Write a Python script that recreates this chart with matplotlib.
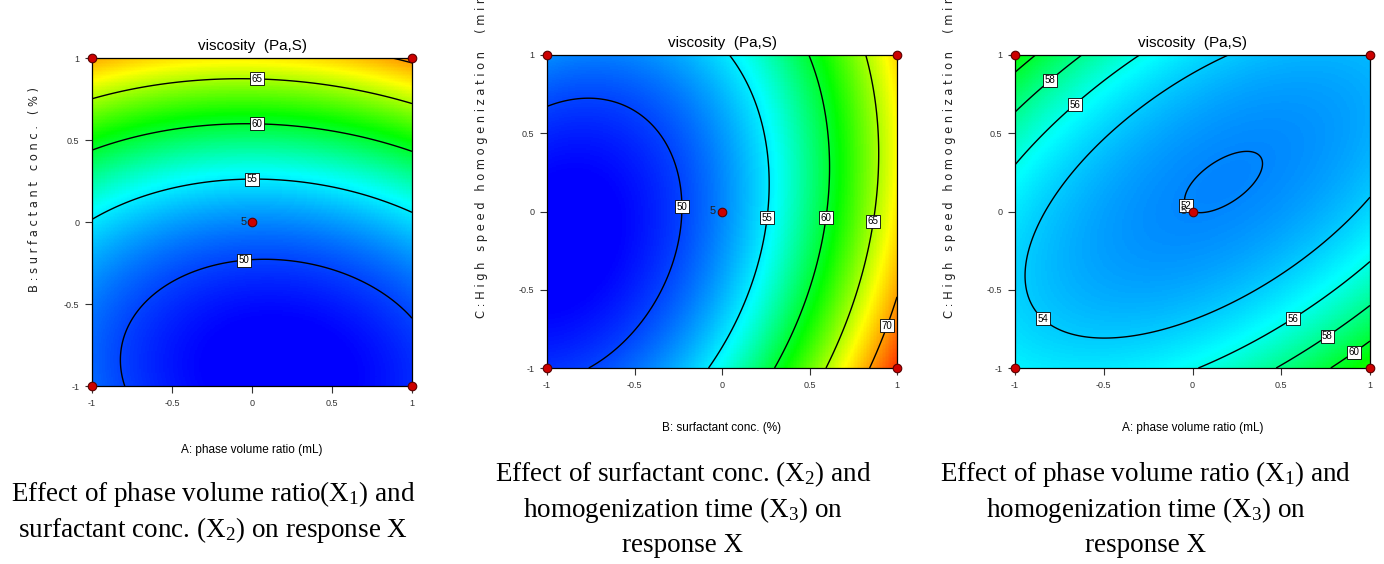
import numpy as np
import matplotlib
matplotlib.use("Agg")
import matplotlib.pyplot as plt
from matplotlib.colors import LinearSegmentedColormap

# quadratic response-surface model for viscosity (coded factors A, B, C)
terms = ["1", "A", "B", "C", "A2", "B2", "C2", "AB", "AC", "BC"]
coef = [52.0, -0.25, 10.0, -0.62, 2.6, 5.6, 3.27, 0.7, -3.5, -2.0]

# design points shown on every panel (coded)
design_x = [-1, 1, -1, 1, 0]
design_y = [-1, -1, 1, 1, 0]
center_runs = "5"

ticks = [-1, -0.5, 0, 0.5, 1]
tick_labels = ["-1", "-0.5", "0", "0.5", "1"]

# colour scale of the surface (value -> colour)
cmap_values = [48.0, 55.5, 61.0, 67.0, 74.0]
cmap_colors = ["#0000ff", "#00ffff", "#00ff00", "#ffff00", "#ff2000"]

panel_axes = [("A", "B"), ("B", "C"), ("A", "C")]
panel_levels = [[50, 55, 60, 65, 70], [50, 55, 60, 65, 70], [52, 54, 56, 58, 60]]
panel_label_pos = [
    [(-0.05, -0.23), (0.0, 0.26), (0.03, 0.6), (0.03, 0.87)],
    [(-0.23, 0.03), (0.25, -0.04), (0.59, -0.04), (0.85, -0.06), (0.92, -0.72)],
    [(-0.05, 0.03), (-0.75, -0.57), (-0.7, 0.73), (0.55, -0.66),
     (-0.84, 0.89), (0.75, -0.78), (0.9, -0.88)],
]
xlabels = ["A: phase volume ratio (mL)", "B: surfactant conc. (%)",
           "A: phase volume ratio (mL)"]
ylabels = ["B : s u r f a c t a n t   c o n c .   ( % )",
           "C : H i g h   s p e e d   h o m o g e n i z a t i o n     ( m i n )",
           "C : H i g h   s p e e d   h o m o g e n i z a t i o n     ( m i n )"]
title = "viscosity  (Pa,S)"
captions = [
    ["Effect of phase volume ratio(X$_1$) and",
     "surfactant conc. (X$_2$) on response X"],
    ["Effect of surfactant conc. (X$_2$) and",
     "homogenization time (X$_3$) on", "response X"],
    ["Effect of phase volume ratio (X$_1$) and",
     "homogenization time (X$_3$) on", "response X"],
]


def viscosity(A, B, C):
    k = dict(zip(terms, coef))
    return (k["1"] + k["A"] * A + k["B"] * B + k["C"] * C
            + k["A2"] * A ** 2 + k["B2"] * B ** 2 + k["C2"] * C ** 2
            + k["AB"] * A * B + k["AC"] * A * C + k["BC"] * B * C)


W, H = 1384, 564
narrow = ["Liberation Sans", "DejaVu Sans"]
plt.rcParams["mathtext.fontset"] = "custom"
plt.rcParams["mathtext.rm"] = "Liberation Serif"
plt.rcParams["mathtext.it"] = "Liberation Serif:italic"

lo, hi = cmap_values[0], cmap_values[-1]
cmap = LinearSegmentedColormap.from_list(
    "de", [((v - lo) / (hi - lo), c) for v, c in zip(cmap_values, cmap_colors)])

fig = plt.figure(figsize=(W / 100, H / 100), dpi=100)

# axes boxes in pixels: left, top, right, bottom
boxes = [(92, 58, 412, 386), (547, 55, 897, 368), (1015, 55, 1370, 368)]
ylab_x = [35, 482, 950]
ylab_y = [189, 318, 318]
xlab_y = [450, 428, 428]
cap_x = [213, 683, 1146]
cap_y0 = [494, 474, 474]

g = np.linspace(-1, 1, 241)
X, Y = np.meshgrid(g, g)

for i, (xa, ya) in enumerate(panel_axes):
    l, t, r, b = boxes[i]
    ax = fig.add_axes([l / W, 1 - b / H, (r - l) / W, (b - t) / H])
    fac = {"A": 0 * X, "B": 0 * X, "C": 0 * X}
    fac[xa] = X
    fac[ya] = Y
    Z = viscosity(fac["A"], fac["B"], fac["C"])
    ax.pcolormesh(X, Y, Z, cmap=cmap, vmin=lo, vmax=hi, shading="auto")
    cs = ax.contour(X, Y, Z, levels=panel_levels[i], colors="black", linewidths=1.0)
    texts = ax.clabel(cs, manual=panel_label_pos[i], inline=False, fmt="%d",
                      fontsize=7)
    for tx in texts:
        tx.set_rotation(0)
        tx.set_family(narrow)
        tx.set_bbox(dict(boxstyle="square,pad=0.15", fc="white", ec="black", lw=0.6))
    ax.scatter(design_x, design_y, s=38, c="#cc0000", edgecolors="#5a0000",
               linewidths=0.8, zorder=5, clip_on=False)
    ax.text(-0.035, 0.0, center_runs, ha="right", va="center", fontsize=8,
            family=narrow, color="#222222", zorder=4)
    ax.set_xlim(-1, 1)
    ax.set_ylim(-1, 1)
    ax.set_xticks(ticks, tick_labels)
    ax.set_yticks(ticks, tick_labels)
    ax.tick_params(direction="out", length=5, width=0.8, labelsize=6.5,
                   colors="#333333", pad=4)
    for lab in ax.get_xticklabels() + ax.get_yticklabels():
        lab.set_family(narrow)
    for sp in ax.spines.values():
        sp.set_linewidth(0.9)
    ax.set_title(title, fontsize=11, family=narrow, pad=6)

    fig.text((l + r) / 2 / W, 1 - xlab_y[i] / H, xlabels[i], ha="center",
             va="center", fontsize=8.5, family=narrow)
    fig.text(ylab_x[i] / W, 1 - ylab_y[i] / H, ylabels[i], rotation=90,
             ha="center", va="center" if i == 0 else "bottom", fontsize=8.3,
             family="DejaVu Sans", color="#222222")
    for j, line in enumerate(captions[i]):
        fig.text(cap_x[i] / W, 1 - (cap_y0[i] + 36 * j) / H, line, ha="center",
                 va="center", fontsize=19.5, family="Liberation Serif")

fig.savefig("out.png", dpi=100)
